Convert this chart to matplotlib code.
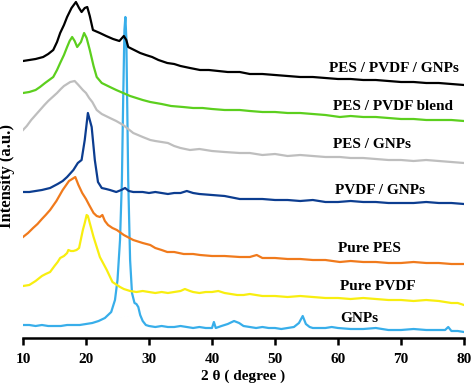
import matplotlib
matplotlib.use("Agg")
import matplotlib.pyplot as plt

plt.rcParams['font.family'] = ['Liberation Serif', 'DejaVu Serif']
plt.rcParams['font.weight'] = 'bold'

# XRD patterns, stacked (intensity in a.u., offsets included)
gnp_x = [10, 11, 12, 13, 14, 15, 16, 17, 18, 19, 20, 21, 22, 23, 24, 24.6, 25.0, 25.4,
         25.7, 25.9, 26.1, 26.25, 26.4, 26.55, 26.7, 27.0, 27.3, 27.7, 28.0, 28.3, 28.6,
         29.0, 29.5, 30, 31, 32, 33, 34, 35, 36, 37, 38, 39, 40, 40.3, 40.6, 41.5, 42.5,
         43.5, 44.3, 45, 46, 47, 48, 49, 50, 51, 52, 53, 53.8, 54.4, 54.9, 55.5, 56, 58,
         59, 60, 62, 64, 66, 68, 70, 72, 74, 76, 77, 77.5, 78, 79, 80]
gnp_y = [13, 13, 12, 13, 12, 12, 12, 13, 13, 13, 14, 15, 17, 20, 26, 38, 58, 98,
         158, 238, 308, 321, 300, 230, 158, 78, 45, 35, 34, 31, 23,
         17, 13, 12, 11, 12, 11, 11, 12, 11, 10, 11, 10, 10, 16, 10, 12, 14,
         17, 15, 12, 11, 10, 11, 10, 10, 9, 10, 11, 15, 22, 14, 11, 10, 10,
         11, 10, 9, 9, 10, 8, 8, 9, 8, 8, 8, 11, 7, 7, 6]

pvdf_x = [10, 11, 12, 13, 13.6, 14.3, 15, 15.5, 15.9, 16.5, 17, 17.2, 17.6, 18, 18.5,
          18.9, 19.5, 19.8, 20.1, 20.3, 20.6, 21.2, 22.2, 23.3, 24.2, 25.4, 26, 27, 28,
          29, 30, 31, 32, 33, 34, 35, 35.7, 36.5, 37, 38, 39, 40, 41, 42, 43, 44, 45, 46,
          47, 48, 50, 52, 54, 56, 58, 60, 62, 64, 66, 68, 70, 72, 74, 76, 78, 79, 80]
pvdf_y = [52, 53, 57, 62, 64, 66, 72, 76, 80, 82, 85, 88, 87, 87, 88,
          90, 108, 115, 123, 122, 115, 101, 81, 68, 56, 51, 49, 47, 46,
          47, 46, 45, 46, 45, 46, 47, 49, 47, 46, 45, 46, 46, 47, 45, 44, 43, 43, 44,
          43, 42, 42, 41, 42, 41, 40, 40, 39, 40, 39, 38, 38, 37, 38, 37, 35, 35, 33]

pes_x = [10, 10.8, 11.6, 12.3, 13, 13.6, 14.3, 15.3, 16.3, 17.3, 17.8, 18.3, 18.8, 19.4,
         20, 20.5, 21.2, 21.7, 22.2, 22.6, 23, 23.5, 24.2, 24.9, 26, 27.5, 29, 30.2, 31,
         32, 32.9, 34, 35.5, 37, 38.1, 40, 42, 44.4, 46, 47.1, 48, 50, 52, 54, 56, 58,
         60.3, 62, 64, 66, 68, 70, 72, 74, 76, 78, 80]
pes_y = [101, 105, 110, 114, 119, 123, 128, 137, 148, 157, 159, 161, 153, 145,
         139, 133, 125, 122, 121, 123, 117, 113, 110, 108, 103, 98, 95, 93, 90,
         88, 86, 86, 84, 84, 83, 82, 82, 81, 81, 83, 80, 80, 79, 79, 78, 78,
         76, 77, 76, 76, 75, 75, 76, 75, 75, 74, 74]

pvdf_gnp_x = [10, 11, 12, 13, 14.3, 15.5, 16.3, 17.0, 18.0, 18.7, 19.3, 19.8, 20.3, 20.9,
              21.4, 21.9, 22.5, 23.2, 23.8, 24.8, 25.6, 26.2, 26.8, 27.5, 29, 30, 31, 32,
              33, 34, 35, 36, 37, 38, 40, 42, 44.4, 46, 48, 50, 52, 54, 56, 58, 60, 62,
              64, 66, 68, 70, 72, 74, 76, 78, 80]
pvdf_gnp_y = [146, 146, 147, 148, 150, 154, 157, 161, 168, 175, 178, 198, 225, 211,
              178, 156, 150, 149, 148, 146, 148, 150, 147, 146, 146, 145, 146, 145,
              144, 145, 145, 147, 145, 144, 143, 142, 139, 139, 139, 138, 138, 137, 138,
              136, 136, 137, 136, 136, 135, 135, 135, 136, 135, 135, 134]

pes_gnp_x = [10, 10.6, 11.3, 12, 12.7, 13.4, 14, 14.7, 15.4, 16, 16.5, 17, 17.5, 18.2,
             18.8, 19.5, 20, 20.5, 21, 21.7, 22.5, 23.8, 24.8, 25.9, 26.7, 27.5, 29, 30.2,
             31, 32, 33, 34, 35, 36.5, 38, 40, 42, 44.4, 46, 48, 50, 52, 54, 56, 58, 60.3,
             62, 64, 66, 68, 70, 72, 74, 76, 78, 80]
pes_gnp_y = [208, 212, 218, 223, 228, 233, 237, 241, 245, 249, 252, 254, 256, 257,
             253, 248, 245, 240, 236, 228, 224, 220, 217, 213, 209, 205, 201, 198,
             197, 196, 195, 192, 190, 188, 189, 187, 186, 185, 185, 183, 184, 182, 183,
             182, 181, 181, 180, 180, 179, 178, 178, 177, 178, 177, 176, 175]

blend_x = [10, 11, 12, 12.7, 13.5, 14.8, 15.4, 15.9, 16.5, 17.0, 17.4, 17.8, 18.2, 18.6,
           19.2, 19.7, 20.1, 20.6, 21.2, 21.7, 22.5, 23.8, 24.8, 25.9, 27, 28, 29, 30.2,
           32, 33.5, 35.4, 37, 38.5, 40, 42, 44.4, 46, 48, 50, 52, 54, 56, 58, 60.3, 62,
           64, 66, 68, 70, 72, 74, 76, 78, 80]
blend_y = [245, 246, 248, 251, 255, 261, 268, 275, 283, 291, 297, 301, 297, 291,
           296, 305, 300, 288, 272, 261, 255, 251, 248, 245, 242, 240, 238, 236,
           234, 232, 231, 230, 230, 229, 228, 228, 227, 226, 226, 225, 225, 224, 223,
           221, 222, 221, 221, 220, 219, 219, 218, 218, 218, 217]

tern_x = [10, 11, 12, 13.2, 14, 14.8, 15.4, 15.9, 16.5, 17.0, 17.7, 18.4, 18.9, 19.3,
          19.8, 20.2, 20.6, 21.1, 22.2, 23.2, 24.3, 25.3, 26.0, 26.4, 26.7, 28.6, 29.5,
          30.5, 31.5, 32.9, 34, 35, 36.5, 38.1, 39.5, 41, 42.5, 44.4, 46, 48, 50, 52, 54,
          56, 58, 60, 62, 64, 66, 68, 70, 72, 74, 76, 78, 80]
tern_y = [277, 278, 279, 281, 284, 288, 296, 305, 313, 321, 330, 336, 330, 326,
          330, 331, 322, 308, 305, 302, 299, 297, 302, 298, 291, 285, 283,
          281, 278, 275, 274, 272, 270, 268, 268, 267, 266, 266, 264, 264, 263, 262, 261,
          261, 260, 259, 259, 258, 258, 257, 256, 256, 255, 255, 254, 253]

fig = plt.figure(figsize=(4.74, 3.85), dpi=100)
ax = fig.add_axes([23/474, (385-338)/385, 441/474, 338/385])

lw = 1.6
ax.plot(gnp_x, gnp_y, color='#38AEEA', lw=lw)
ax.plot(pvdf_x, pvdf_y, color='#F8EE10', lw=lw)
ax.plot(pes_x, pes_y, color='#F07A1C', lw=lw)
ax.plot(pvdf_gnp_x, pvdf_gnp_y, color='#0C3D90', lw=lw)
ax.plot(pes_gnp_x, pes_gnp_y, color='#BEBEBE', lw=lw)
ax.plot(blend_x, blend_y, color='#5CCF1E', lw=lw)
ax.plot(tern_x, tern_y, color='black', lw=lw)

fs = 11
ax.text(58.6, 270, 'PES / PVDF / GNPs', fontsize=fs, fontweight='bold', va='center')
ax.text(59.2, 231, 'PES / PVDF blend', fontsize=fs, fontweight='bold', va='center')
ax.text(59.2, 193, 'PES / GNPs', fontsize=fs, fontweight='bold', va='center')
ax.text(59.5, 148, 'PVDF / GNPs', fontsize=fs, fontweight='bold', va='center')
ax.text(60.0, 89, 'Pure PES', fontsize=fs, fontweight='bold', va='center')
ax.text(60.3, 51, 'Pure PVDF', fontsize=fs, fontweight='bold', va='center')
ax.text(60.3, 20, 'GNPs', fontsize=fs, fontweight='bold', va='center')

ax.set_xlim(10, 80)
ax.set_ylim(0, 338)
ax.set_xticks(range(10, 81, 10))
ax.set_yticks([])
for s in ['left', 'right', 'top']:
    ax.spines[s].set_visible(False)
ax.spines['bottom'].set_linewidth(1.8)
ax.tick_params(axis='x', direction='out', length=5, width=1.8, labelsize=fs, pad=6)
for t in ax.get_xticklabels():
    t.set_fontweight('bold')
ax.set_xlabel('2 θ ( degree )', fontsize=fs, fontweight='bold', labelpad=2)
ax.set_ylabel('Intensity (a.u.)', fontsize=12, fontweight='bold', labelpad=0)
ax.yaxis.set_label_coords(-0.019, 0.48)

fig.savefig('out.png', dpi=100)
